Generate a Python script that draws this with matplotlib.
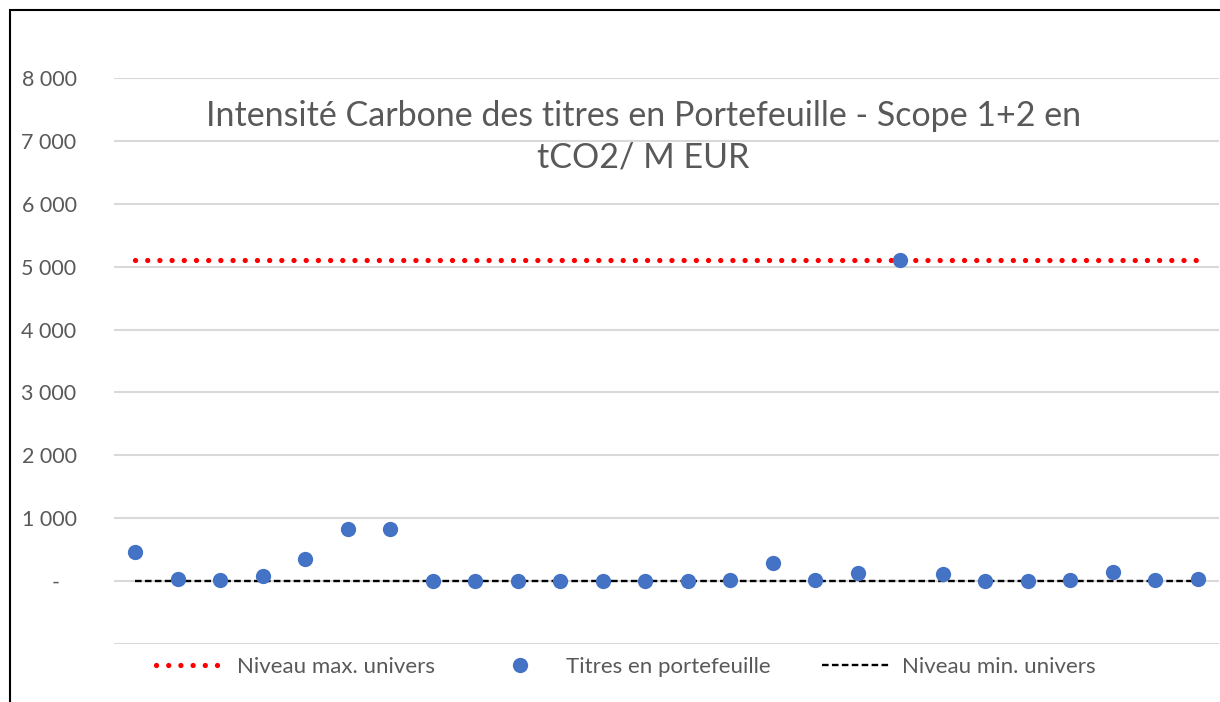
import numpy as np
import matplotlib.pyplot as plt
from matplotlib.patches import Rectangle

plt.rcParams['font.family'] = ['Lato', 'DejaVu Sans']

# Données
titres = [462, 32, 16, 86, 351, 825, 836, 5, 5, 5, 5, 5, 5, 5, 15,
          281, 16, 128, 5100, 107, 6, 2, 22, 144, 16, 27]
niveau_max = 5110
niveau_min = 0
y_ticks = [-1000, 0, 1000, 2000, 3000, 4000, 5000, 6000, 7000, 8000]
y_labels = ["", "-   ", "1 000", "2 000", "3 000", "4 000", "5 000", "6 000", "7 000", "8 000"]
titre = "Intensité Carbone des titres en Portefeuille - Scope 1+2 en\ntCO2/ M EUR"

x = np.arange(1, len(titres) + 1)
grey = "#595959"

fig = plt.figure(figsize=(12.2, 7.02), dpi=100)
ax = fig.add_axes([114 / 1220, 58 / 702, 1105 / 1220, 566 / 702])

ax.plot(x, [niveau_max] * len(x), color="#ff0000", lw=3.8,
        linestyle=(0, (0.01, 2.3)), dash_capstyle="round",
        label="Niveau max. univers", zorder=3)
ax.plot(x, titres, "o", color="#4472c4", markersize=11, markeredgewidth=0,
        label="Titres en portefeuille", zorder=4)
ax.plot(x, [niveau_min] * len(x), color="black", lw=1.7,
        linestyle=(0, (2.8, 1.4)), label="Niveau min. univers", zorder=3)

ax.set_xlim(0.5, len(titres) + 0.5)
ax.set_ylim(-1000, 8000)
ax.set_yticks(y_ticks)
ax.set_yticklabels(y_labels)
ax.set_xticks([])
ax.tick_params(axis="y", length=0, pad=27, labelsize=15.5, labelcolor=grey)
ax.grid(axis="y", color="#d9d9d9", lw=1.5)
ax.set_axisbelow(True)
for s in ax.spines.values():
    s.set_visible(False)

ax.text(0.479, 0.962, titre, transform=ax.transAxes, ha="center", va="top",
        fontsize=24.5, color=grey, linespacing=1.4)

fig.legend(loc="center", bbox_to_anchor=(0.513, 0.05), ncol=3, frameon=False,
           fontsize=16, handlelength=3.06, handletextpad=0.55,
           columnspacing=2.3, labelcolor=grey)

fig.patches.append(Rectangle((10 / 1220, -0.1), 1.2, 1.1 - 10 / 702,
                             transform=fig.transFigure, fill=False,
                             edgecolor="black", lw=1.5))

fig.savefig("out.png", dpi=100)
